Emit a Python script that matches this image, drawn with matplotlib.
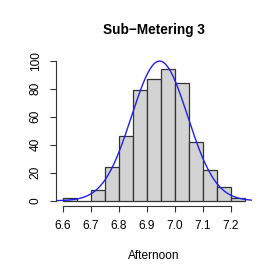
import numpy as np
import matplotlib
matplotlib.use('Agg')
import matplotlib.pyplot as plt

plt.rcParams['font.family'] = ['Liberation Sans', 'DejaVu Sans']

# histogram of afternoon values, bin width 0.05
bin_edges = [6.60, 6.65, 6.70, 6.75, 6.80, 6.85, 6.90, 6.95, 7.00, 7.05, 7.10, 7.15, 7.20, 7.25]
counts = [2, 0, 8, 24, 46, 79, 87, 94, 84, 42, 22, 10, 2]
# fitted normal curve
fit_mean = 6.945
fit_sd = 0.1
x_ticks = [6.6, 6.7, 6.8, 6.9, 7.0, 7.1, 7.2]
x_tick_labels = ['6.6', '6.7', '6.8', '6.9', '7.0', '7.1', '7.2']
y_ticks = [0, 20, 40, 60, 80, 100]

fig = plt.figure(figsize=(2.77, 2.77), dpi=100)
ax = fig.add_axes([0.201, 0.255, 0.71, 0.546])

edges = np.array(bin_edges)
widths = np.diff(edges)
ax.bar(edges[:-1], counts, width=widths, align='edge', color='#D3D3D3',
       edgecolor='#333333', linewidth=0.9)

xlo, xhi = 6.574, 7.276
xs = np.linspace(xlo, xhi, 200)
scale = sum(counts) * widths[0]
ys = scale * np.exp(-0.5 * ((xs - fit_mean) / fit_sd) ** 2) / (fit_sd * np.sqrt(2 * np.pi))
ax.plot(xs, ys, color='#2020F0', linewidth=1.0)

ax.set_xlim(xlo, xhi)
ax.set_ylim(-4, 104)
ax.spines['top'].set_visible(False)
ax.spines['right'].set_visible(False)
ax.spines['left'].set_bounds(0, 100)
ax.spines['bottom'].set_bounds(6.6, 7.2)
for s in ('left', 'bottom'):
    ax.spines[s].set_linewidth(0.8)
    ax.spines[s].set_color('#333333')

ax.set_xticks(x_ticks)
ax.set_xticklabels(x_tick_labels)
ax.set_yticks(y_ticks)
ax.set_yticklabels([str(v) for v in y_ticks], rotation=90, va='center')
ax.tick_params(axis='both', direction='out', length=4, width=0.8, color='#333333',
               labelsize=8.6, pad=6)

ax.set_xlabel('Afternoon', fontsize=8.6, labelpad=12.5)
ax.set_title('Sub\u2212Metering 3', fontsize=9.8, fontweight='bold', pad=15)

fig.savefig('out.png', dpi=100)
